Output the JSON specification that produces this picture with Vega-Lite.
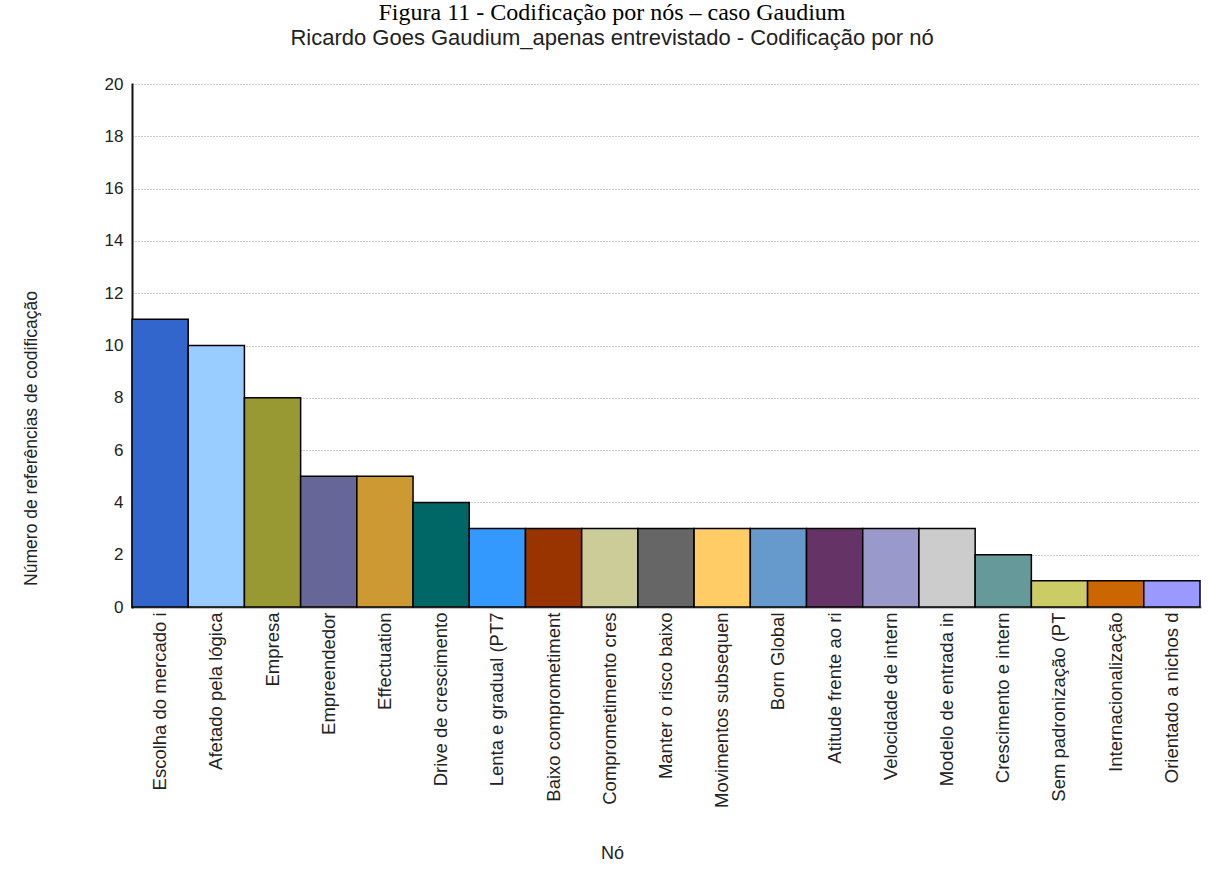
{
  "$schema": "https://vega.github.io/schema/vega-lite/v6.json",
  "width": 1068,
  "height": 523,
  "autosize": {"type": "none"},
  "padding": {"left": 132, "top": 84, "right": 8, "bottom": 263},
  "background": "white",
  "title": {
    "text": "Figura 11 - Codificação por nós – caso Gaudium",
    "subtitle": "Ricardo Goes Gaudium_apenas entrevistado - Codificação por nó",
    "anchor": "middle",
    "frame": "group",
    "dx": -54,
    "font": "Liberation Serif",
    "fontSize": 24,
    "fontWeight": "normal",
    "color": "black",
    "subtitleFont": "Liberation Sans",
    "subtitleFontSize": 22,
    "subtitleColor": "#222222",
    "subtitlePadding": 3,
    "offset": 26
  },
  "data": {
    "values": [
      {"node": "Escolha do mercado i", "refs": 11},
      {"node": "Afetado pela lógica", "refs": 10},
      {"node": "Empresa", "refs": 8},
      {"node": "Empreendedor", "refs": 5},
      {"node": "Effectuation", "refs": 5},
      {"node": "Drive de crescimento", "refs": 4},
      {"node": "Lenta e gradual (PT7", "refs": 3},
      {"node": "Baixo comprometiment", "refs": 3},
      {"node": "Comprometimento cres", "refs": 3},
      {"node": "Manter o risco baixo", "refs": 3},
      {"node": "Movimentos subsequen", "refs": 3},
      {"node": "Born Global", "refs": 3},
      {"node": "Atitude frente ao ri", "refs": 3},
      {"node": "Velocidade de intern", "refs": 3},
      {"node": "Modelo de entrada in", "refs": 3},
      {"node": "Crescimento e intern", "refs": 2},
      {"node": "Sem padronização (PT", "refs": 1},
      {"node": "Internacionalização", "refs": 1},
      {"node": "Orientado a nichos d", "refs": 1}
    ]
  },
  "mark": {"type": "bar", "stroke": "black", "strokeWidth": 1.5, "opacity": 1},
  "encoding": {
    "x": {
      "field": "node",
      "type": "nominal",
      "sort": null,
      "scale": {"paddingInner": 0, "paddingOuter": 0},
      "axis": {
        "title": "Nó",
        "labelAngle": -90,
        "labelFont": "Liberation Sans",
        "labelFontSize": 18.5,
        "labelColor": "#222222",
        "labelPadding": 5,
        "labelLimit": 400,
        "ticks": false,
        "domainColor": "#888888",
        "domainWidth": 2,
        "titleFont": "Liberation Sans",
        "titleFontSize": 18,
        "titleFontWeight": "normal",
        "titleColor": "#222222",
        "titleX": 480,
        "titleY": 251,
        "titleAlign": "center",
        "titleBaseline": "alphabetic"
      }
    },
    "y": {
      "field": "refs",
      "type": "quantitative",
      "scale": {"domain": [0, 20], "nice": false},
      "axis": {
        "title": "Número de referências de codificação",
        "values": [0, 2, 4, 6, 8, 10, 12, 14, 16, 18, 20],
        "grid": true,
        "gridDash": [1, 2],
        "gridColor": "#999999",
        "gridWidth": 1,
        "ticks": false,
        "domainColor": "#111111",
        "domainWidth": 2,
        "labelFont": "Liberation Sans",
        "labelFontSize": 17,
        "labelColor": "#222222",
        "labelPadding": 9,
        "titleFont": "Liberation Sans",
        "titleFontSize": 17.5,
        "titleFontWeight": "normal",
        "titleColor": "#222222",
        "titleX": -101,
        "titleY": 354,
        "titleAngle": -90,
        "titleAlign": "center",
        "titleBaseline": "middle"
      }
    },
    "color": {
      "field": "node",
      "type": "nominal",
      "legend": null,
      "scale": {
        "domain": [
          "Escolha do mercado i", "Afetado pela lógica", "Empresa", "Empreendedor", "Effectuation",
          "Drive de crescimento", "Lenta e gradual (PT7", "Baixo comprometiment", "Comprometimento cres",
          "Manter o risco baixo", "Movimentos subsequen", "Born Global", "Atitude frente ao ri",
          "Velocidade de intern", "Modelo de entrada in", "Crescimento e intern", "Sem padronização (PT",
          "Internacionalização", "Orientado a nichos d"
        ],
        "range": [
          "#3366CC", "#99CCFF", "#999933", "#666699", "#CC9933",
          "#006666", "#3399FF", "#993300", "#CCCC99",
          "#666666", "#FFCC66", "#6699CC", "#663366",
          "#9999CC", "#CCCCCC", "#669999", "#CCCC66",
          "#CC6600", "#9999FF"
        ]
      }
    }
  },
  "config": {
    "view": {"stroke": null},
    "axis": {"domainCap": "square"}
  }
}
